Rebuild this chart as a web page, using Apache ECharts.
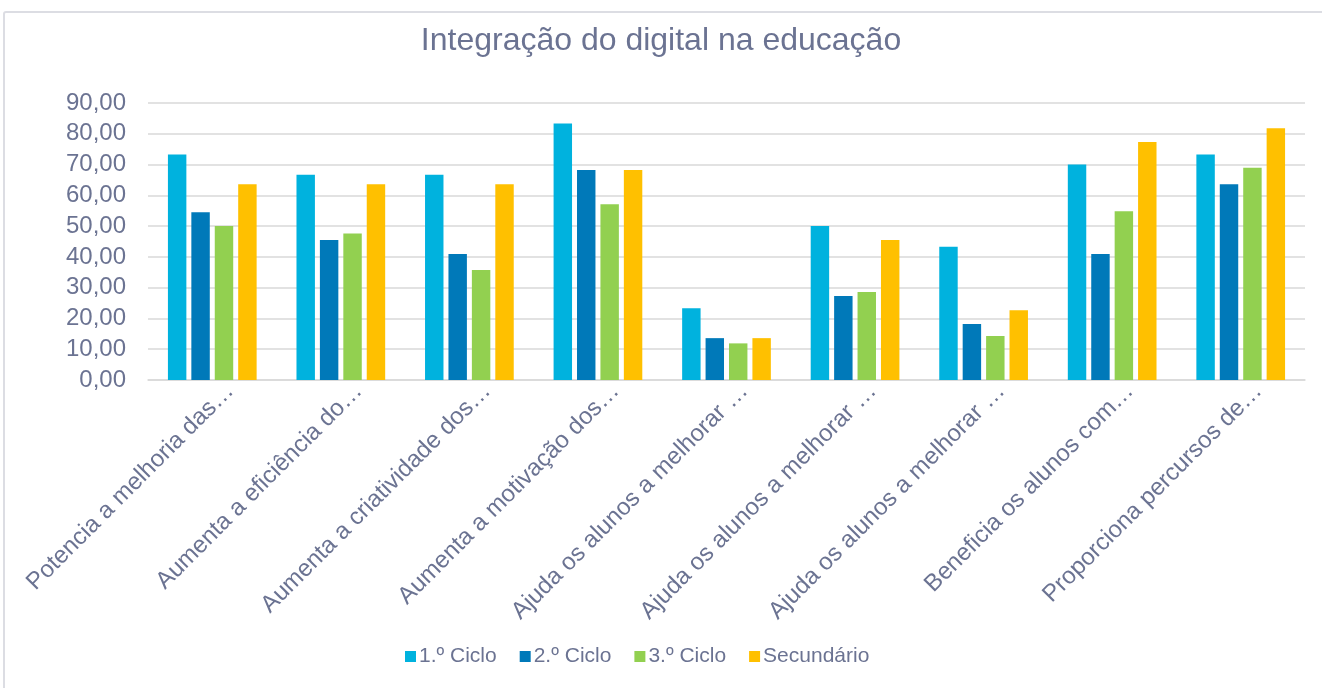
<!DOCTYPE html>
<html>
<head>
<meta charset="utf-8">
<script src="https://cdn.jsdelivr.net/npm/echarts@6/dist/echarts.min.js"></script>
<style>
  html, body { margin: 0; padding: 0; background: #fff; }
  #frame { position: absolute; left: 3px; top: 11px; width: 1340px; height: 700px; border: 2px solid #dcdde3; border-radius: 3px; }
  #chart { position: absolute; left: 0; top: 0; width: 1322px; height: 688px; }
</style>
</head>
<body>
<div id="frame"></div>
<div id="chart"></div>
<script>
(function () {

  var categories = [
    'Potencia a melhoria das…',
    'Aumenta a eficiência do…',
    'Aumenta a criatividade dos…',
    'Aumenta a motivação dos…',
    'Ajuda os alunos a melhorar …',
    'Ajuda os alunos a melhorar …',
    'Ajuda os alunos a melhorar …',
    'Beneficia os alunos com…',
    'Proporciona percursos de…'
  ];
  var ciclo1 = [73.3, 66.7, 66.7, 83.3, 23.3, 50.0, 43.3, 70.0, 73.3];
  var ciclo2 = [54.5, 45.5, 40.9, 68.2, 13.6, 27.3, 18.2, 40.9, 63.6];
  var ciclo3 = [50.0, 47.6, 35.7, 57.1, 11.9, 28.6, 14.3, 54.8, 69.0];
  var secundario = [63.6, 63.6, 63.6, 68.2, 13.6, 45.5, 22.7, 77.3, 81.8];
  var seriesNames = ['1.º Ciclo', '2.º Ciclo', '3.º Ciclo', 'Secundário'];
  var colors = ['#00b2de', '#0079b9', '#92d050', '#ffc000'];

  var TXT = '#6b7392';
  var FONT = '"Liberation Sans", Arial, sans-serif';

  function _bar(name, data){
    return {
      name: name,
      type: 'bar',
      barGap: '27%',
      barCategoryGap: '31%',
      data: data
    };
  }

  var chart = echarts.init(document.getElementById('chart'));

  var opt = {
    color: colors,
    animation: false,
    textStyle: { fontFamily: FONT },
    title: {
      text: 'Integração do digital na educação',
      left: 'center',
      top: 20,
      textStyle: { color: TXT, fontSize: 32, fontWeight: 'normal', fontFamily: FONT }
    },
    legend: {
      bottom: 16,
      left: 400,
      itemWidth: 11,
      itemHeight: 11,
      itemGap: 23,
      icon: 'rect',
      textStyle: { color: TXT, fontSize: 21, fontFamily: FONT, padding: [0, 0, 0, -2] },
      data: seriesNames
    },
    grid: { left: 148, right: 17, top: 103, bottom: 308 },
    xAxis: {
      type: 'category',
      data: categories,
      axisLine: { lineStyle: { color: '#d9d9d9', width: 1.5 } },
      axisTick: { show: false },
      axisLabel: {
        rotate: 45,
        interval: 0,
        color: TXT,
        fontSize: 24,
        fontFamily: FONT,
        verticalAlign: 'top',
        margin: 8,
        padding: [0, -13, 0, 0]
      }
    },
    yAxis: {
      type: 'value',
      min: 0,
      max: 90,
      interval: 10,
      axisLine: { show: false },
      axisTick: { show: false },
      splitLine: { lineStyle: { color: '#d9d9d9', width: 1.5 } },
      axisLabel: {
        color: TXT,
        fontSize: 24,
        fontFamily: FONT,
        margin: 22,
        formatter: function(v){ return v.toFixed(2).replace('.', ','); }
      }
    },
    series: [
      _bar(seriesNames[0], ciclo1),
      _bar(seriesNames[1], ciclo2),
      _bar(seriesNames[2], ciclo3),
      _bar(seriesNames[3], secundario)
    ]
  };

  chart.setOption(opt);
})();
</script>
</body>
</html>
